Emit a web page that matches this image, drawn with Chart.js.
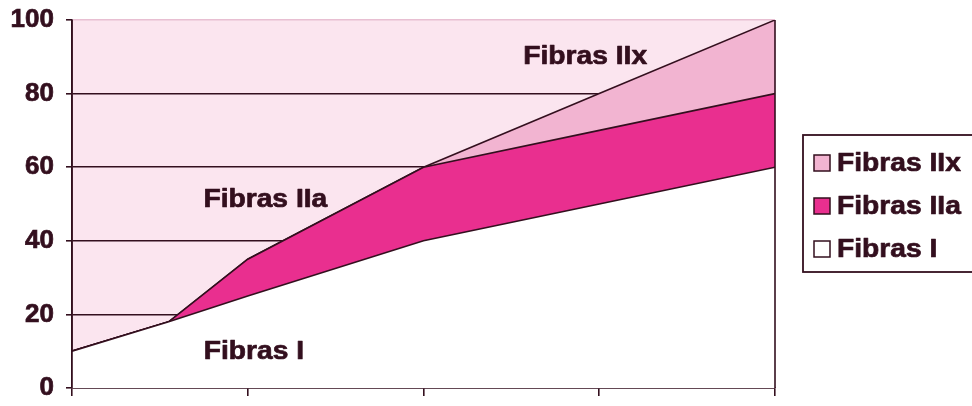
<!DOCTYPE html>
<html>
<head>
<meta charset="utf-8">
<script src="https://cdn.jsdelivr.net/npm/chart.js@4/dist/chart.umd.min.js"></script>
<style>
  html, body { margin: 0; padding: 0; background: #ffffff; }
  #wrap { width: 972px; height: 406px; position: relative; }
</style>
</head>
<body>
<div id="wrap"><canvas id="c" width="972" height="406"></canvas></div>
<script>
// Positions along the horizontal axis (unlabelled ticks at 0..4)
const positions = [0, 0.55, 1, 2, 3, 4];
// Share of each fibre type, stacked from the bottom up
const fibrasI   = [10, 18, 25, 40, 50, 60];
const fibrasIIa = [0, 0, 10, 20, 20, 20];
const fibrasIIx = [0, 0, 0, 0, 10, 20];
const seriesNames = ['Fibras I', 'Fibras IIa', 'Fibras IIx'];
const yTickValues = [0, 20, 40, 60, 80, 100];

const INK = '#330f1e';
const BG_PINK = '#fbe5ef';
const FONT = '"Liberation Sans", Arial, sans-serif';
const LABEL_STRETCH = 1.085;

const toPoints = (vals) => vals.map((v, i) => ({ x: positions[i], y: v }));

// Heavy, slightly widened text used for labels and legend entries
function drawWideText(ctx, text, x, y, align) {
  ctx.save();
  ctx.translate(x, y);
  ctx.scale(LABEL_STRETCH, 1);
  ctx.textAlign = align;
  ctx.textBaseline = 'alphabetic';
  ctx.font = 'bold 26px ' + FONT;
  ctx.fillStyle = INK;
  ctx.strokeStyle = INK;
  ctx.lineWidth = 0.7;
  ctx.lineJoin = 'round';
  ctx.fillText(text, 0, 0);
  ctx.strokeText(text, 0, 0);
  ctx.restore();
}

// Plot-area background, drawn before grid lines
const plotBackground = {
  id: 'plotBackground',
  beforeDraw(chart) {
    const { ctx, chartArea: a } = chart;
    ctx.save();
    ctx.fillStyle = BG_PINK;
    ctx.fillRect(a.left, a.top, a.right - a.left, a.bottom - a.top);
    ctx.restore();
  }
};

// Outline edges of the stacked areas plus in-plot series labels
const areaDecor = {
  id: 'areaDecor',
  afterDatasetsDraw(chart, args, opts) {
    const { ctx } = chart;
    const xs = chart.scales.x, ys = chart.scales.y;
    ctx.save();
    ctx.strokeStyle = INK;
    ctx.lineWidth = 1.6;
    // left axis line
    const xl = xs.getPixelForValue(xs.min);
    ctx.beginPath();
    ctx.moveTo(xl, ys.getPixelForValue(ys.max));
    ctx.lineTo(xl, ys.getPixelForValue(ys.min));
    ctx.stroke();
    // right closing edge of the stacked areas
    const last = positions.length - 1;
    const total = fibrasI[last] + fibrasIIa[last] + fibrasIIx[last];
    const xr = xs.getPixelForValue(positions[last]);
    ctx.beginPath();
    ctx.moveTo(xr, ys.getPixelForValue(total));
    ctx.lineTo(xr, ys.getPixelForValue(0));
    ctx.stroke();
    ctx.restore();

    // labels inside the plot
    opts.labels.forEach(l => {
      drawWideText(ctx, l.text, xs.getPixelForValue(l.x), ys.getPixelForValue(l.y) + 9, 'center');
    });
  }
};

// Boxed legend on the right, listing series top-down
const boxedLegend = {
  id: 'boxedLegend',
  afterDraw(chart, args, opts) {
    const { ctx } = chart;
    ctx.save();
    ctx.lineWidth = 1.8;
    ctx.strokeStyle = INK;
    ctx.fillStyle = '#ffffff';
    ctx.fillRect(opts.left, opts.top, opts.width, opts.height);
    ctx.strokeRect(opts.left, opts.top, opts.width, opts.height);
    const ds = chart.data.datasets.slice().reverse();
    ds.forEach((d, i) => {
      const cy = opts.firstY + i * opts.step;
      ctx.fillStyle = d.backgroundColor;
      ctx.fillRect(opts.left + 11, cy - 7, 16, 16);
      ctx.lineWidth = 1.5;
      ctx.strokeStyle = INK;
      ctx.strokeRect(opts.left + 11, cy - 7, 16, 16);
      drawWideText(ctx, d.label, opts.left + 34, cy + 9, 'left');
    });
    ctx.restore();
  }
};

const ds = (label, vals, color, fill) => ({
  label,
  data: toPoints(vals),
  backgroundColor: color,
  borderColor: INK,
  borderWidth: 1.6,
  pointRadius: 0,
  tension: 0,
  fill
});

new Chart(document.getElementById('c'), {
  type: 'line',
  data: {
    datasets: [
      ds(seriesNames[0], fibrasI, '#ffffff', 'origin'),
      ds(seriesNames[1], fibrasIIa, '#e92f8f', '-1'),
      ds(seriesNames[2], fibrasIIx, '#f2b4d1', '-1')
    ]
  },
  plugins: [plotBackground, areaDecor, boxedLegend],
  options: {
    responsive: false,
    animation: false,
    events: [],
    layout: { padding: { top: 20, left: 9, right: 197, bottom: 0 } },
    scales: {
      x: {
        type: 'linear',
        min: 0,
        max: 4,
        z: 1,
        afterFit: (s) => { s.height = 18; s.paddingLeft = 0; s.paddingRight = 0; },
        ticks: { stepSize: 1, display: false },
        grid: { drawOnChartArea: false, drawTicks: true, tickLength: 8, tickColor: INK, lineWidth: 1.6 },
        border: { display: true, color: INK, width: 1.6 }
      },
      y: {
        stacked: true,
        min: 0,
        max: 100,
        afterFit: (s) => { s.width = 63; s.paddingTop = 0; s.paddingBottom = 0; },
        afterBuildTicks: (s) => { s.ticks = yTickValues.map(v => ({ value: v })); },
        ticks: {
          color: INK,
          padding: 12,
          textStrokeColor: INK,
          textStrokeWidth: 0.7,
          font: { family: FONT, size: 26, weight: 'bold' }
        },
        grid: {
          color: (c) => (c.tick && c.tick.value === 100 ? '#e8bfd2' : INK),
          tickColor: INK,
          tickLength: 6,
          lineWidth: 1.6
        },
        border: { display: true, color: INK, width: 1.6 }
      }
    },
    plugins: {
      legend: { display: false },
      tooltip: { enabled: false },
      areaDecor: {
        labels: [
          { text: 'Fibras IIx', x: 2.92, y: 90.5 },
          { text: 'Fibras IIa', x: 1.10, y: 51.5 },
          { text: 'Fibras I', x: 1.035, y: 10.3 }
        ]
      },
      boxedLegend: { left: 803, top: 135, width: 190, height: 137, firstY: 162, step: 43 }
    }
  }
});
</script>
</body>
</html>
